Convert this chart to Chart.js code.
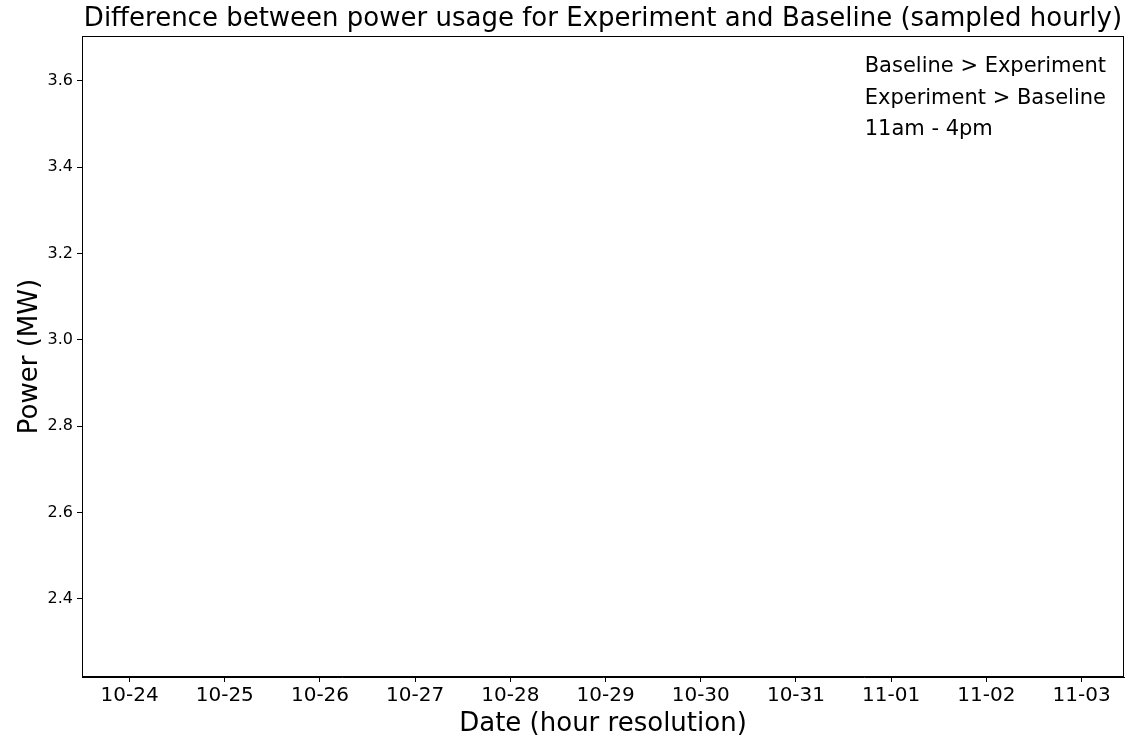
<!DOCTYPE html>
<html><head><meta charset="utf-8">
<script src="https://cdn.jsdelivr.net/npm/chart.js@4.4.0/dist/chart.umd.min.js"></script>
<style>html,body{margin:0;padding:0;background:#fff;} #wrap{width:1133px;height:737px;}</style>
</head><body><div id="wrap"><canvas id="c" width="1133" height="737"></canvas></div>
<script>
const titleText = 'Difference between power usage for Experiment and Baseline (sampled hourly)';
const xAxisLabel = 'Date (hour resolution)';
const yAxisLabel = 'Power (MW)';
const dateLabels = ['10-24','10-25','10-26','10-27','10-28','10-29','10-30','10-31','11-01','11-02','11-03'];
const yTickValues = [2.4, 2.6, 2.8, 3.0, 3.2, 3.4, 3.6];
const seriesNames = ['Baseline > Experiment', 'Experiment > Baseline', '11am - 4pm'];
// The reference plot area is empty: every series has no points.
const baselineOverExperiment = [];
const experimentOverBaseline = [];
const peakWindow = [];
const xRange = [-0.5, 10.446];
const yRange = [2.219, 3.704];

const FONT = '"DejaVu Sans", sans-serif';
Chart.defaults.font.family = FONT;
Chart.defaults.color = '#000';

const frame = {
  id: 'frame',
  afterDraw(chart) {
    const {ctx, chartArea: a} = chart;
    ctx.save();
    ctx.strokeStyle = '#000';
    ctx.lineWidth = 1;
    const l = Math.round(a.left) + 0.5, t = Math.round(a.top) + 0.5;
    const r = Math.round(a.right) - 0.5, b = Math.round(a.bottom) - 0.5;
    ctx.strokeRect(l, t, r - l, b - t);
    ctx.restore();
  }
};

const textLegend = {
  id: 'textLegend',
  afterDraw(chart) {
    const {ctx, chartArea: a} = chart;
    ctx.save();
    ctx.font = '21px ' + FONT;
    ctx.fillStyle = '#000';
    ctx.textBaseline = 'alphabetic';
    ctx.textAlign = 'left';
    const labels = chart.data.datasets.map(d => d.label);
    const w = Math.max(...labels.map(s => ctx.measureText(s).width));
    const x = a.right - 18 - w;
    labels.forEach((s, i) => ctx.fillText(s, x, a.top + 36 + i * 31.5));
    ctx.restore();
  }
};

new Chart(document.getElementById('c'), {
  type: 'line',
  data: {
    datasets: [
      {label: seriesNames[0], data: baselineOverExperiment, borderColor: '#d62728', backgroundColor: '#d62728'},
      {label: seriesNames[1], data: experimentOverBaseline, borderColor: '#2ca02c', backgroundColor: '#2ca02c'},
      {label: seriesNames[2], data: peakWindow, borderColor: '#7f7f7f', backgroundColor: '#7f7f7f'}
    ]
  },
  options: {
    responsive: false,
    animation: false,
    devicePixelRatio: 1,
    layout: {padding: {left: 0, right: 9, top: 0, bottom: 0}},
    plugins: {
      legend: {display: false},
      tooltip: {enabled: false},
      title: {
        display: true, text: titleText, fullSize: false, color: '#000',
        font: {size: 26, weight: 'normal', family: FONT, lineHeight: 1.15},
        padding: {top: 4, bottom: 2.1}
      }
    },
    scales: {
      x: {
        type: 'linear', min: xRange[0], max: xRange[1],
        afterBuildTicks: s => { s.ticks = dateLabels.map((_, i) => ({value: i})); },
        afterFit: s => { s.height = 60; },
        ticks: {callback: v => dateLabels[v], font: {size: 20}, color: '#000', padding: 2, maxRotation: 0, autoSkip: false},
        grid: {drawOnChartArea: false, drawTicks: true, tickLength: 5, tickColor: '#000', tickWidth: 1},
        border: {display: true, color: '#000', width: 1},
        title: {display: true, text: xAxisLabel, color: '#000', font: {size: 26, lineHeight: 1.0}, padding: {top: 0, bottom: 0}}
      },
      y: {
        type: 'linear', min: yRange[0], max: yRange[1],
        afterBuildTicks: s => { s.ticks = yTickValues.map(v => ({value: v})); },
        afterFit: s => { s.width = 82; },
        ticks: {callback: v => v.toFixed(1), font: {size: 16}, color: '#000', padding: 4},
        grid: {drawOnChartArea: false, drawTicks: true, tickLength: 5, tickColor: '#000', tickWidth: 1},
        border: {display: true, color: '#000', width: 1},
        title: {display: true, text: yAxisLabel, color: '#000', font: {size: 26, lineHeight: 1.2}, padding: {top: 15, bottom: 0}}
      }
    }
  },
  plugins: [frame, textLegend]
});
</script></body></html>
